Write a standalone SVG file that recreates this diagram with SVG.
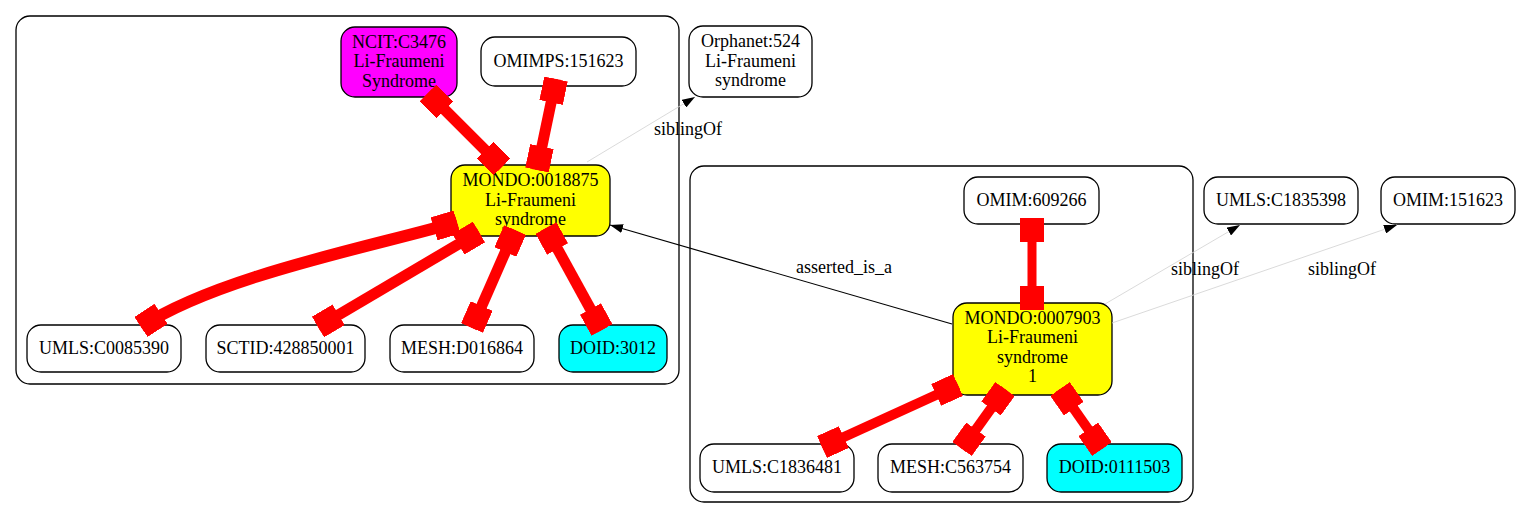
<svg xmlns="http://www.w3.org/2000/svg" width="1522" height="519" viewBox="0 0 1522 519">
<style>
.cl{fill:#fff;stroke:#000;stroke-width:1.3}
.n{stroke:#000;stroke-width:1.3}
.w{fill:#fff}
.y{fill:#ffff00}
.m{fill:#ff00ff}
.c{fill:#00ffff}
text{font-family:"Liberation Serif","Times New Roman",serif;font-size:18px;fill:#000;text-anchor:middle}
.red{fill:none;stroke:#ff0000}
.blk{fill:none;stroke:#000;stroke-width:1.2}
.sib{fill:none;stroke:#d6d6d6;stroke-width:0.9}
</style>
<defs>
<marker id="box" markerUnits="userSpaceOnUse" markerWidth="24" markerHeight="24" viewBox="0 0 24 24" refX="24" refY="12" orient="auto-start-reverse">
<rect x="0" y="0" width="24" height="24" fill="#ff0000"/>
</marker>
<marker id="arr" markerUnits="userSpaceOnUse" markerWidth="13" markerHeight="9" viewBox="0 0 13 9" refX="13" refY="4.5" orient="auto">
<path d="M0,0 L13,4.5 L0,9 Z" fill="#000"/>
</marker>
</defs>
<rect width="1522" height="519" fill="#fff"/>
<g id="clusters">
<rect id="cluster1" class="cl" x="16" y="16" width="663" height="368" rx="14"/>
<rect id="cluster2" class="cl" x="690" y="166" width="503" height="336" rx="14"/>
</g>
<g id="nodes">
<g id="ncit"><rect class="n m" x="341" y="27" width="116" height="70" rx="14"/><text x="399" y="47.5">NCIT:C3476</text><text x="399" y="67">Li-Fraumeni</text><text x="399" y="86.5">Syndrome</text></g>
<g id="omimps"><rect class="n w" x="481" y="37" width="155" height="49" rx="14"/><text x="558.5" y="67">OMIMPS:151623</text></g>
<g id="orphanet"><rect class="n w" x="689" y="26" width="123" height="71" rx="14"/><text x="750.5" y="47">Orphanet:524</text><text x="750.5" y="66.5">Li-Fraumeni</text><text x="750.5" y="86">syndrome</text></g>
<g id="mondo18875"><rect class="n y" x="451" y="165" width="159" height="71" rx="14"/><text x="530.5" y="186">MONDO:0018875</text><text x="530.5" y="205.5">Li-Fraumeni</text><text x="530.5" y="225">syndrome</text></g>
<g id="umls0085390"><rect class="n w" x="27" y="325" width="154" height="47" rx="14"/><text x="104" y="354">UMLS:C0085390</text></g>
<g id="sctid"><rect class="n w" x="206" y="325" width="159" height="47" rx="14"/><text x="285.5" y="354">SCTID:428850001</text></g>
<g id="meshd016864"><rect class="n w" x="390" y="325" width="144" height="47" rx="14"/><text x="462" y="354">MESH:D016864</text></g>
<g id="doid3012"><rect class="n c" x="559" y="325" width="108" height="47" rx="14"/><text x="613" y="354">DOID:3012</text></g>
<g id="omim609266"><rect class="n w" x="964" y="177" width="135" height="47" rx="14"/><text x="1031.5" y="206">OMIM:609266</text></g>
<g id="mondo7903"><rect class="n y" x="953" y="303" width="159" height="92" rx="14"/><text x="1032.5" y="323.5">MONDO:0007903</text><text x="1032.5" y="343">Li-Fraumeni</text><text x="1032.5" y="362.5">syndrome</text><text x="1032.5" y="382">1</text></g>
<g id="umls1835398"><rect class="n w" x="1204" y="177" width="154" height="47" rx="14"/><text x="1281" y="206">UMLS:C1835398</text></g>
<g id="omim151623"><rect class="n w" x="1381" y="177" width="134" height="47" rx="14"/><text x="1448" y="206">OMIM:151623</text></g>
<g id="umls1836481"><rect class="n w" x="700" y="444" width="154" height="48" rx="14"/><text x="777" y="473">UMLS:C1836481</text></g>
<g id="meshc563754"><rect class="n w" x="878" y="444" width="145" height="48" rx="14"/><text x="950.5" y="473">MESH:C563754</text></g>
<g id="doid0111503"><rect class="n c" x="1047" y="444" width="135" height="48" rx="14"/><text x="1114.5" y="473">DOID:0111503</text></g>
</g>
<g id="connectors">
<path class="red" stroke-width="11" marker-start="url(#box)" marker-end="url(#box)" d="M428,93 L502,167"/>
<path class="red" stroke-width="11" marker-start="url(#box)" marker-end="url(#box)" d="M556,79 L537,170"/>
<path class="red" stroke-width="12" marker-start="url(#box)" marker-end="url(#box)" d="M457,222 C380,245 220,275 141,327"/>
<path class="red" stroke-width="11" marker-start="url(#box)" marker-end="url(#box)" d="M479,232 L318,327"/>
<path class="red" stroke-width="11" marker-start="url(#box)" marker-end="url(#box)" d="M515,230 L472,328"/>
<path class="red" stroke-width="11" marker-start="url(#box)" marker-end="url(#box)" d="M546,228 L602,330"/>
<path class="red" stroke-width="9" marker-start="url(#box)" marker-end="url(#box)" d="M1032,218 L1032,310"/>
<path class="red" stroke-width="10" marker-start="url(#box)" marker-end="url(#box)" d="M958,385 L822,447"/>
<path class="red" stroke-width="10" marker-start="url(#box)" marker-end="url(#box)" d="M1005,389 L962,449"/>
<path class="red" stroke-width="10" marker-start="url(#box)" marker-end="url(#box)" d="M1060,389 L1102,449"/>
<path class="blk" marker-end="url(#arr)" d="M952,324 L610,225"/>
<text x="844" y="273">asserted_is_a</text>
<path class="sib" marker-end="url(#arr)" d="M587,162 L695,97"/>
<text x="688" y="135">siblingOf</text>
<path class="sib" marker-end="url(#arr)" d="M1105,304 L1240,225"/>
<text x="1205" y="275">siblingOf</text>
<path class="sib" marker-end="url(#arr)" d="M1112,323 L1397,225"/>
<text x="1342" y="275">siblingOf</text>
</g>
</svg>
